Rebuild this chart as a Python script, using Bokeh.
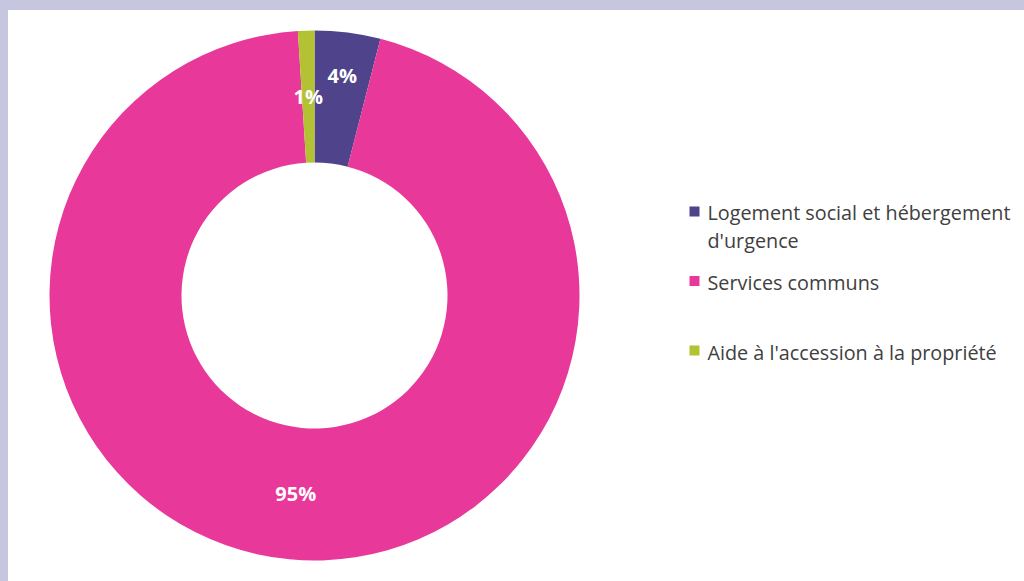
import math
from bokeh.plotting import figure
from bokeh.models import Range1d
from bokeh.core.properties import value
from bokeh.embed import file_html
from bokeh.resources import INLINE

# ---- data ----
categories = ["Logement social et hébergement d'urgence",
              "Services communs",
              "Aide à l'accession à la propriété"]
shares = [4, 95, 1]
legend_lines = [["Logement social et hébergement", "d'urgence"],
                ["Services communs"],
                ["Aide à l'accession à la propriété"]]

# ---- style / layout ----
colors = ["#4f438b", "#e8389a", "#b3c233"]
W, H = 1016, 573
PAGE_H = 581
CX, CY = 314, 295          # page px
R_IN, R_OUT = 133, 265
label_r = [222, 199, 199]
square_centers = [211, 280.5, 350]
text_baselines = [212, 282, 352]
LINE_GAP = 28
TEXT_X = 707
SQ_X = 694
FONT = "Open Sans"


def Y(py):
    return PAGE_H - py


p = figure(width=W, height=H, x_range=Range1d(0, W), y_range=Range1d(PAGE_H - H, PAGE_H),
           min_border=0, toolbar_location=None, output_backend="svg",
           x_axis_type=None, y_axis_type=None, outline_line_color=None)
p.grid.visible = False
p.border_fill_alpha = 0
p.background_fill_alpha = 0

total = float(sum(shares))
starts, ends, lx, ly, ltxt = [], [], [], [], []
cum = 0.0
for i, v in enumerate(shares):
    a0 = math.pi / 2 - 2 * math.pi * cum / total
    cum += v
    a1 = math.pi / 2 - 2 * math.pi * cum / total
    starts.append(a0)
    ends.append(a1)
    mid = (a0 + a1) / 2
    lx.append(CX + label_r[i] * math.cos(mid))
    ly.append(Y(CY) + label_r[i] * math.sin(mid))
    ltxt.append(f"{v}%")

p.annular_wedge(x=CX, y=Y(CY), inner_radius=R_IN, outer_radius=R_OUT,
                start_angle=starts, end_angle=ends, direction="clock",
                fill_color=colors, line_color=None)

p.text(x=lx, y=ly, text=ltxt, text_color="white", text_font=value("Open Sans"),
       text_font_size="20px", text_font_style="bold",
       text_align="center", text_baseline="middle")

# legend
for i, lines in enumerate(legend_lines):
    p.rect(x=SQ_X, y=Y(square_centers[i]), width=10, height=10,
           fill_color=colors[i], line_color=None)
    for j, t in enumerate(lines):
        p.text(x=TEXT_X, y=Y(text_baselines[i] + j * LINE_GAP), text=[t], text_color="#404040",
               text_font=value(FONT), text_font_size="19.8px",
               text_align="left", text_baseline="alphabetic")

style = ("<style>html{background:"
         "linear-gradient(#c6c6e0,#c6c6e0) 0 0/100% 10px no-repeat,"
         "linear-gradient(#c6c6e0,#c6c6e0) 0 0/8px 100% no-repeat,#ffffff;}</style>")
html = file_html(p, INLINE).replace("</head>", style + "</head>", 1)
open("out.html", "w").write(html)
